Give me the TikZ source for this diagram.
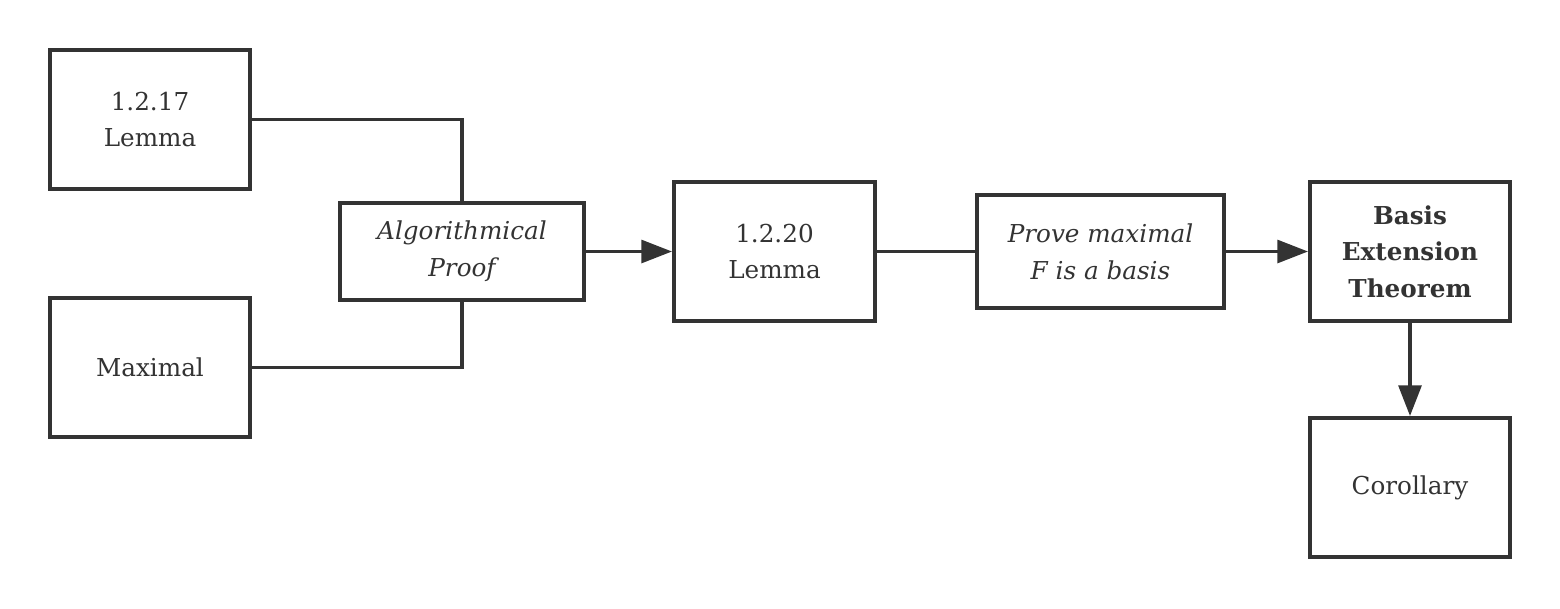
\documentclass[tikz,border=0pt]{standalone}
\usepackage{fontspec}
\setmainfont{DejaVu Serif}
\usetikzlibrary{arrows.meta}
\definecolor{ink}{HTML}{333333}
\begin{document}
\begin{tikzpicture}[x=0.75pt,y=-0.75pt,
  box/.style={draw=ink, line width=2.9pt, text=ink, align=center, inner sep=0pt,
    font=\fontsize{18.5}{27.5}\selectfont},
  std/.style={box, minimum width=150pt, minimum height=104.25pt},
  link/.style={draw=ink, line width=2.9pt},
  arr/.style={link, -{Triangle[length=23pt,width=17pt]}}]
\useasboundingbox (0,0) rectangle (1560,608);
\node[std] (l17) at (150,119.5) {1.2.17\\Lemma};
\node[std] (max) at (150,367.5) {Maximal};
\node[box, minimum width=183pt, minimum height=72.75pt, font=\fontsize{18.5}{27.5}\selectfont\itshape] (alg) at (462,251.5) {Algorithmical\\Proof};
\node[std, minimum width=150.75pt] (l20) at (774.5,251.5) {1.2.20\\Lemma};
\node[box, minimum width=185.25pt, minimum height=84.75pt, font=\fontsize{18.5}{27.5}\selectfont\itshape] (prove) at (1100.5,251.5) {Prove maximal\\F is a basis};
\node[std, font=\fontsize{18.5}{27.5}\selectfont\bfseries] (basis) at (1410,251.5) {Basis\\Extension\\Theorem};
\node[std] (cor) at (1410,487.5) {Corollary};
\draw[link] (l17.east) -| (alg.north);
\draw[link] (max.east) -| (alg.south);
\draw[arr] (alg) -- (l20);
\draw[link] (l20) -- (prove);
\draw[arr] (prove) -- (basis);
\draw[arr] (basis) -- (cor);
\end{tikzpicture}
\end{document}
